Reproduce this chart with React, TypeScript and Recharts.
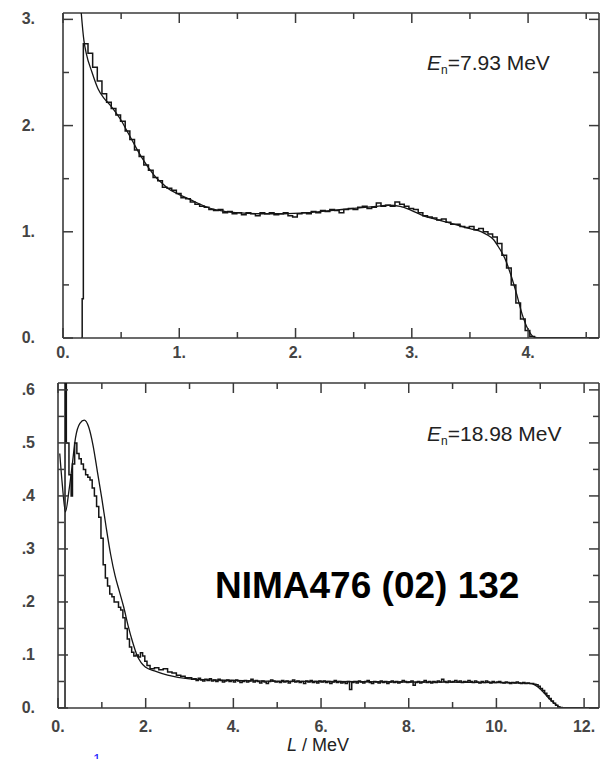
import React from 'react';
import { LineChart, Line, XAxis, YAxis, ReferenceLine } from 'recharts';

// ---- top panel, En = 7.93 MeV ----
// histogram: two lead bins, then regular bins of 0.04 MeV
const topLeadL = [0.155, 0.165];
const topLeadY = [0, 0.37];
const topHistStart = 0.175;
const topHistStep = 0.04;
const topHist = [
  2.77, 2.68, 2.55, 2.42, 2.30, 2.22, 2.16, 2.10, 2.04, 1.95,
  1.87, 1.77, 1.71, 1.63, 1.58, 1.51, 1.48, 1.42, 1.41, 1.39,
  1.36, 1.32, 1.31, 1.28, 1.26, 1.24, 1.23, 1.21, 1.20, 1.21,
  1.18, 1.19, 1.17, 1.18, 1.16, 1.18, 1.17, 1.15, 1.18, 1.17,
  1.18, 1.16, 1.17, 1.18, 1.15, 1.14, 1.17, 1.18, 1.17, 1.19,
  1.18, 1.20, 1.19, 1.21, 1.20, 1.18, 1.21, 1.22, 1.21, 1.23,
  1.24, 1.22, 1.23, 1.27, 1.24, 1.25, 1.24, 1.28, 1.26, 1.24,
  1.22, 1.21, 1.18, 1.15, 1.14, 1.13, 1.11, 1.12, 1.09, 1.07,
  1.07, 1.05, 1.04, 1.05, 1.02, 1.03, 1.00, 0.98, 0.95, 0.89,
  0.78, 0.66, 0.50, 0.33, 0.18, 0.07, 0.015, 0, 0, 0,
  0, 0, 0, 0, 0, 0, 0, 0, 0, 0, 0, 0,
];
// simulation (smooth)
const topSimL = [0.14, 0.18, 0.2, 0.25, 0.3, 0.35, 0.4, 0.45, 0.5, 0.55, 0.6, 0.65, 0.7, 0.75, 0.8, 0.85, 0.9, 1.0, 1.1, 1.2, 1.3, 1.4, 1.5, 1.7, 1.9, 2.1, 2.3, 2.5, 2.7, 2.8, 2.9, 3.0, 3.1, 3.2, 3.3, 3.4, 3.5, 3.6, 3.65, 3.7, 3.75, 3.8, 3.85, 3.9, 3.95, 4.0, 4.05, 4.1, 4.61];
const topSimY = [3.3, 2.8, 2.68, 2.5, 2.35, 2.26, 2.2, 2.13, 2.05, 1.95, 1.85, 1.75, 1.66, 1.58, 1.51, 1.46, 1.41, 1.35, 1.3, 1.25, 1.21, 1.19, 1.18, 1.17, 1.17, 1.18, 1.2, 1.22, 1.24, 1.25, 1.24, 1.2, 1.15, 1.12, 1.09, 1.06, 1.03, 1.0, 0.97, 0.93, 0.85, 0.75, 0.6, 0.42, 0.22, 0.08, 0.01, 0, 0];

const topXTicks = [0, 0.5, 1, 1.5, 2, 2.5, 3, 3.5, 4, 4.5];
const topYTicks = [0, 0.5, 1, 1.5, 2, 2.5, 3];

// ---- bottom panel, En = 18.98 MeV ----
const botHeadL = [0, 0.16, 0.19, 0.25, 0.3, 0.33, 0.38, 0.43, 0.48, 0.53, 0.58, 0.63, 0.68, 0.73, 0.78, 0.83, 0.88, 0.93, 0.98, 1.03, 1.08, 1.13, 1.18, 1.23, 1.28, 1.33, 1.38, 1.43, 1.48, 1.53, 1.58, 1.63, 1.68, 1.73, 1.78, 1.83, 1.88, 1.93, 1.98, 2.03, 2.1, 2.2, 2.3, 2.4, 2.5, 2.6, 2.7, 2.8, 2.9];
const botHeadY = [0, 0.68, 0.5, 0.44, 0.4, 0.46, 0.5, 0.48, 0.47, 0.46, 0.45, 0.44, 0.435, 0.43, 0.415, 0.4, 0.38, 0.36, 0.32, 0.27, 0.245, 0.23, 0.215, 0.21, 0.2, 0.2, 0.19, 0.185, 0.17, 0.15, 0.13, 0.115, 0.105, 0.098, 0.1, 0.096, 0.104, 0.098, 0.088, 0.08, 0.074, 0.076, 0.072, 0.074, 0.068, 0.066, 0.062, 0.06, 0.057];
// plateau bins of 0.05 MeV from 3.0 MeV
const botTailStart = 3.0;
const botTailStep = 0.05;
const botTail = [
  0.057, 0.054, 0.055, 0.052, 0.056, 0.053, 0.051, 0.054, 0.052, 0.055,
  0.051, 0.053, 0.05, 0.054, 0.052, 0.049, 0.051, 0.053, 0.05, 0.052,
  0.049, 0.053, 0.051, 0.048, 0.05, 0.052, 0.049, 0.051, 0.054, 0.049,
  0.052, 0.05, 0.047, 0.051, 0.049, 0.046, 0.05, 0.053, 0.051, 0.049,
  0.05, 0.048, 0.052, 0.049, 0.051, 0.047, 0.05, 0.053, 0.049, 0.051,
  0.048, 0.05, 0.046, 0.051, 0.049, 0.052, 0.048, 0.05, 0.047, 0.051,
  0.049, 0.051, 0.048, 0.05, 0.046, 0.049, 0.052, 0.048, 0.05, 0.047,
  0.049, 0.046, 0.05, 0.035, 0.048, 0.05, 0.047, 0.051, 0.049, 0.047,
  0.05, 0.052, 0.048, 0.046, 0.05, 0.049, 0.047, 0.051, 0.048, 0.05,
  0.046, 0.049, 0.051, 0.048, 0.05, 0.047, 0.049, 0.052, 0.05, 0.048,
  0.049, 0.051, 0.043, 0.048, 0.05, 0.047, 0.049, 0.052, 0.048, 0.05,
  0.047, 0.05, 0.048, 0.051, 0.049, 0.054, 0.05, 0.048, 0.051, 0.049,
  0.05, 0.052, 0.049, 0.051, 0.048, 0.05, 0.049, 0.052, 0.05, 0.048,
  0.051, 0.049, 0.047, 0.05, 0.048, 0.051, 0.049, 0.047, 0.05, 0.048,
  0.049, 0.05, 0.048, 0.047, 0.049, 0.048, 0.046, 0.048, 0.047, 0.049,
  0.047, 0.046, 0.048, 0.046, 0.047, 0.046, 0.046, 0.045, 0.044, 0.041,
  0.037, 0.033, 0.028, 0.023, 0.018, 0.013, 0.009, 0.005, 0.002, 0.001,
  0, 0,
];
const botEndL = [11.6, 12.34];
const botEndY = [0, 0];
const botSimL = [0.04, 0.1, 0.17, 0.25, 0.32, 0.4, 0.5, 0.6, 0.7, 0.8, 0.9, 1.0, 1.1, 1.2, 1.3, 1.4, 1.5, 1.6, 1.7, 1.8, 1.9, 2.0, 2.2, 2.5, 3.0, 4.0, 6.0, 8.0, 10.0, 10.6, 10.8, 11.0, 11.2, 11.4, 11.5, 12.34];
const botSimY = [0.48, 0.42, 0.37, 0.41, 0.455, 0.51, 0.537, 0.543, 0.53, 0.495, 0.445, 0.395, 0.34, 0.29, 0.25, 0.22, 0.19, 0.155, 0.125, 0.1, 0.085, 0.077, 0.07, 0.062, 0.055, 0.052, 0.05, 0.049, 0.048, 0.047, 0.046, 0.036, 0.018, 0.004, 0, 0];

const botXTicks = [0, 1, 2, 3, 4, 5, 6, 7, 8, 9, 10, 11, 12];
const botYTicks = [0, 0.05, 0.1, 0.15, 0.2, 0.25, 0.3, 0.35, 0.4, 0.45, 0.5, 0.55, 0.6];

const topHistData = [
  ...topLeadL.map((L, i) => ({ L, v: topLeadY[i] })),
  ...topHist.map((v, i) => ({ L: +(topHistStart + i * topHistStep).toFixed(3), v })),
];
const topSimData = topSimL.map((L, i) => ({ L, v: topSimY[i] }));
const botHistData = [
  ...botHeadL.map((L, i) => ({ L, v: botHeadY[i] })),
  ...botTail.map((v, i) => ({ L: +(botTailStart + i * botTailStep).toFixed(2), v })),
  ...botEndL.map((L, i) => ({ L, v: botEndY[i] })),
];
const botSimData = botSimL.map((L, i) => ({ L, v: botSimY[i] }));

const AXIS = '#3a3a3a';
const INK = '#151515';
const FONT = '"Liberation Sans", Arial, sans-serif';

const isWhole = (v: number) => Math.abs(v - Math.round(v)) < 1e-6;
const isTenth = (v: number) => Math.abs(v * 10 - Math.round(v * 10)) < 1e-6;
const fmtWhole = (v: number) => `${Math.round(v)}.`;
const fmtTenth = (v: number) => (v === 0 ? '0.' : `.${Math.round(v * 10)}`);

function XTick(props: any) {
  const { x, y, payload, cfg } = props;
  const v = payload.value;
  const major = cfg.isMajor(v);
  const len = major ? 10 : 6;
  return (
    <g>
      <line x1={x} x2={x} y1={y} y2={y - len} stroke={AXIS} strokeWidth={1.5} />
      <line x1={x} x2={x} y1={cfg.top} y2={cfg.top + len} stroke={AXIS} strokeWidth={1.5} />
      {major && (
        <text x={x} y={y + cfg.dy} textAnchor="middle" fontSize={16} fontWeight="bold" fill="#444" fontFamily={FONT}>
          {cfg.fmt(v)}
        </text>
      )}
    </g>
  );
}

function YTick(props: any) {
  const { x, y, payload, cfg } = props;
  const v = payload.value;
  const major = cfg.isMajor(v);
  const len = major ? 10 : 6;
  return (
    <g>
      <line x1={x} x2={x + len} y1={y} y2={y} stroke={AXIS} strokeWidth={1.5} />
      <line x1={cfg.right} x2={cfg.right - len} y1={y} y2={y} stroke={AXIS} strokeWidth={1.5} />
      {major && (
        <text x={35} y={y + 5} textAnchor="end" fontSize={16} fontWeight="bold" fill="#444" fontFamily={FONT}>
          {cfg.fmt(v)}
        </text>
      )}
    </g>
  );
}

const topXCfg = { top: 13, isMajor: isWhole, fmt: fmtWhole, dy: 20 };
const topYCfg = { right: 599, isMajor: isWhole, fmt: fmtWhole };
const botXCfg = { top: 13, isMajor: (v: number) => isWhole(v / 2), fmt: fmtWhole, dy: 24 };
const botYCfg = { right: 599, isMajor: isTenth, fmt: fmtTenth };

function Energy({ value, top }: { value: string; top: number }) {
  return (
    <div style={{ position: 'absolute', left: 427, top, fontSize: 21, lineHeight: '21px', color: '#222', fontFamily: FONT, whiteSpace: 'nowrap' }}>
      <span style={{ fontStyle: 'italic' }}>E</span>
      <span style={{ fontSize: 12, position: 'relative', top: 4 }}>n</span>
      {`=${value} MeV`}
    </div>
  );
}

export default function App() {
  return (
    <div style={{ position: 'absolute', left: 0, top: 0, width: 600, height: 759, background: '#fff', overflow: 'hidden', fontFamily: FONT }}>
      <div style={{ position: 'absolute', left: 0, top: 0 }}>
        <LineChart width={600} height={372} margin={{ top: 13, right: 1, left: 0, bottom: 0 }}>
          <XAxis
            type="number"
            dataKey="L"
            domain={[0, 4.61]}
            allowDataOverflow
            ticks={topXTicks}
            interval={0}
            height={34}
            tickSize={0}
            tickMargin={0}
            tickLine={false}
            axisLine={{ stroke: AXIS, strokeWidth: 1.6 }}
            tick={(p: any) => <XTick {...p} cfg={topXCfg} />}
          />
          <YAxis
            type="number"
            domain={[0, 3.06]}
            allowDataOverflow
            ticks={topYTicks}
            interval={0}
            width={63}
            tickSize={0}
            tickMargin={0}
            tickLine={false}
            axisLine={{ stroke: AXIS, strokeWidth: 1.6 }}
            tick={(p: any) => <YTick {...p} cfg={topYCfg} />}
          />
          <ReferenceLine y={3.06} stroke={AXIS} strokeWidth={1.6} />
          <ReferenceLine x={4.61} stroke={AXIS} strokeWidth={1.6} />
          <Line data={topHistData} dataKey="v" type="stepAfter" stroke={INK} strokeWidth={1.5} dot={false} isAnimationActive={false} />
          <Line data={topSimData} dataKey="v" type="monotone" stroke={INK} strokeWidth={1.3} dot={false} isAnimationActive={false} />
        </LineChart>
      </div>

      <div style={{ position: 'absolute', left: 0, top: 370 }}>
        <LineChart width={600} height={389} margin={{ top: 13, right: 1, left: 0, bottom: 0 }}>
          <XAxis
            type="number"
            dataKey="L"
            domain={[0, 12.34]}
            allowDataOverflow
            ticks={botXTicks}
            interval={0}
            height={51}
            tickSize={0}
            tickMargin={0}
            tickLine={false}
            axisLine={{ stroke: AXIS, strokeWidth: 1.6 }}
            tick={(p: any) => <XTick {...p} cfg={botXCfg} />}
          />
          <YAxis
            type="number"
            domain={[0, 0.613]}
            allowDataOverflow
            ticks={botYTicks}
            interval={0}
            width={58}
            tickSize={0}
            tickMargin={0}
            tickLine={false}
            axisLine={{ stroke: AXIS, strokeWidth: 1.6 }}
            tick={(p: any) => <YTick {...p} cfg={botYCfg} />}
          />
          <ReferenceLine y={0.613} stroke={AXIS} strokeWidth={1.6} />
          <ReferenceLine x={12.34} stroke={AXIS} strokeWidth={1.6} />
          <Line data={botHistData} dataKey="v" type="stepAfter" stroke={INK} strokeWidth={1.5} dot={false} isAnimationActive={false} />
          <Line data={botSimData} dataKey="v" type="monotone" stroke={INK} strokeWidth={1.3} dot={false} isAnimationActive={false} />
        </LineChart>
      </div>

      <Energy value="7.93" top={52} />
      <Energy value="18.98" top={423} />

      <div style={{ position: 'absolute', left: 215, top: 567, fontSize: 37, lineHeight: '37px', fontWeight: 'bold', color: '#000', whiteSpace: 'nowrap' }}>
        NIMA476 (02) 132
      </div>

      <div style={{ position: 'absolute', left: 287, top: 736, fontSize: 18, lineHeight: '18px', color: '#222', whiteSpace: 'nowrap' }}>
        <span style={{ fontStyle: 'italic' }}>L</span> / MeV
      </div>

      <div style={{ position: 'absolute', left: 93, top: 752, fontSize: 14, lineHeight: '14px', color: '#2020ff' }}>1</div>
    </div>
  );
}
